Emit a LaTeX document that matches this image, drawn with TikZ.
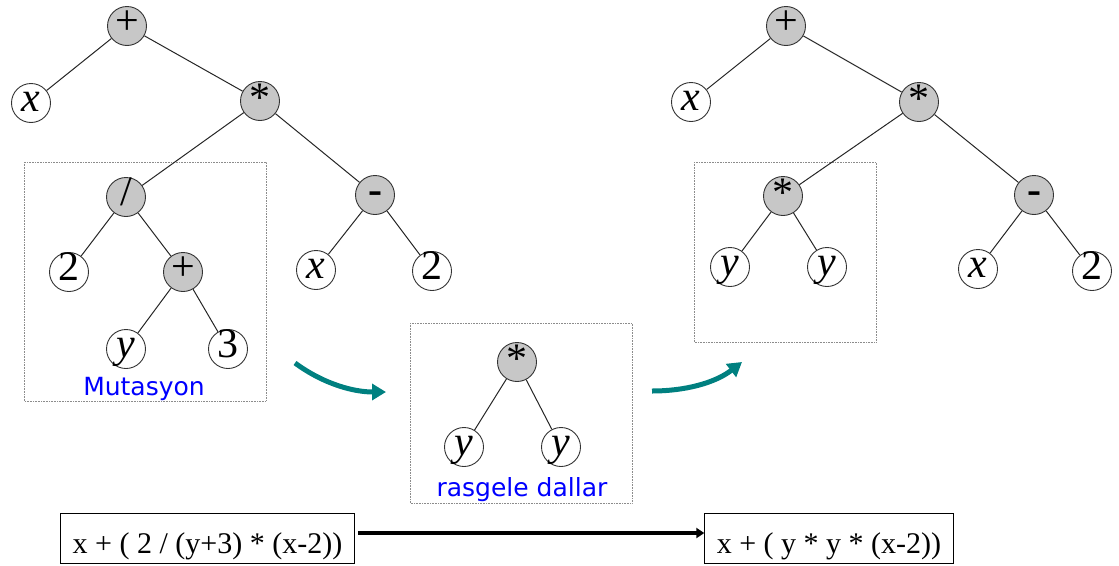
\documentclass[tikz,border=0pt]{standalone}
\usepackage{fontspec}
\newfontfamily\treefont{Liberation Serif}
\newfontfamily\notefont{DejaVu Sans}
\usetikzlibrary{arrows.meta}
\definecolor{moveteal}{RGB}{0,128,128}
\definecolor{noteblue}{RGB}{0,0,255}

\begin{document}
\begin{tikzpicture}[x=1pt, y=-1pt,
  tnode/.style={circle, draw=black!80, line width=0.9pt, minimum size=39pt, inner sep=0pt,
    font=\treefont\fontsize{42}{42}\selectfont, text height=17pt, text depth=-17pt},
  opnode/.style={tnode, fill=black!22},
  mulop/.style={opnode, text height=21pt, text depth=-21pt},
  leaf/.style={tnode, fill=white},
  edge/.style={draw=black!85, line width=1pt},
  subbox/.style={draw=black!45, densely dotted, line width=0.6pt},
  note/.style={font=\notefont\fontsize{25}{25}\selectfont, text=noteblue, anchor=base, inner sep=0pt},
  expr/.style={draw, line width=1pt, font=\treefont\fontsize{30}{30}\selectfont,
    text height=30pt, text depth=0pt, minimum height=50pt, inner xsep=12pt},
  move/.style={moveteal, line width=5pt, -{Triangle[length=14pt, width=16pt]}}]
  \useasboundingbox (0,0) rectangle (1119,565);
  % subtree boxes
  \draw[subbox] (24,162) rectangle (266,401);
  \draw[subbox] (410,323) rectangle (632,503);
  \draw[subbox] (694,162) rectangle (876,342);
  % parent tree
  \node[opnode] (lroot) at (127,26) {+};
  \node[leaf] (lx) at (31,103) {\textit{x}};
  \node[mulop] (lmul) at (260,101) {*};
  \node[opnode] (ldiv) at (126,197) {/};
  \node[leaf] (ltwo) at (69,272) {2};
  \node[opnode] (lplus) at (183,272) {+};
  \node[leaf] (ly) at (126,349) {\textit{y}};
  \node[leaf] (lthree) at (228,349) {3};
  \node[opnode] (lminus) at (375,195) {\textbf{-}};
  \node[leaf] (lxb) at (316,270) {\textit{x}};
  \node[leaf] (ltwob) at (432,271) {2};
  \draw[edge] (lroot) -- (lx) (lroot) -- (lmul);
  \draw[edge] (lmul) -- (ldiv) (lmul) -- (lminus);
  \draw[edge] (ldiv) -- (ltwo) (ldiv) -- (lplus);
  \draw[edge] (lplus) -- (ly) (lplus) -- (lthree);
  \draw[edge] (lminus) -- (lxb) (lminus) -- (ltwob);
  \node[note] (lnote) at (144,395) {Mutasyon};
  % random branch
  \node[mulop] (mmul) at (517,362) {*};
  \node[leaf] (mya) at (464,447) {\textit{y}};
  \node[leaf] (myb) at (561,447) {\textit{y}};
  \draw[edge] (mmul) -- (mya) (mmul) -- (myb);
  \node[note] (mnote) at (522,496) {rasgele dallar};
  % child tree
  \node[opnode] (rroot) at (786,26) {+};
  \node[leaf] (rx) at (691,102) {\textit{x}};
  \node[mulop] (rmul) at (919,102) {*};
  \node[mulop] (rmulb) at (783,196) {*};
  \node[leaf] (rya) at (730,267) {\textit{y}};
  \node[leaf] (ryb) at (827,267) {\textit{y}};
  \node[opnode] (rminus) at (1034,195) {\textbf{-}};
  \node[leaf] (rxb) at (978,269) {\textit{x}};
  \node[leaf] (rtwo) at (1092,271) {2};
  \draw[edge] (rroot) -- (rx) (rroot) -- (rmul);
  \draw[edge] (rmul) -- (rmulb) (rmul) -- (rminus);
  \draw[edge] (rmulb) -- (rya) (rmulb) -- (ryb);
  \draw[edge] (rminus) -- (rxb) (rminus) -- (rtwo);
  % moves
  \coordinate (cuta) at (295,363);
  \coordinate (cutb) at (386,392);
  \draw[move] (cuta) .. controls (325,385) and (355,392) .. (cutb);
  \coordinate (pastea) at (652,391);
  \coordinate (pasteb) at (742,362);
  \draw[move] (pastea) .. controls (685,391) and (715,383) .. (pasteb);
  % expressions
  \node[expr] (expold) at (207.5,538) {x + ( 2 / (y+3) * (x-2))};
  \node[expr] (expnew) at (829,538) {x + ( y * y * (x-2))};
  \draw[line width=4pt, -{Triangle[length=8pt, width=10pt]}, shorten <=3pt]
    ([yshift=5pt]expold.east) -- ([yshift=5pt]expnew.west);
\end{tikzpicture}
\end{document}
